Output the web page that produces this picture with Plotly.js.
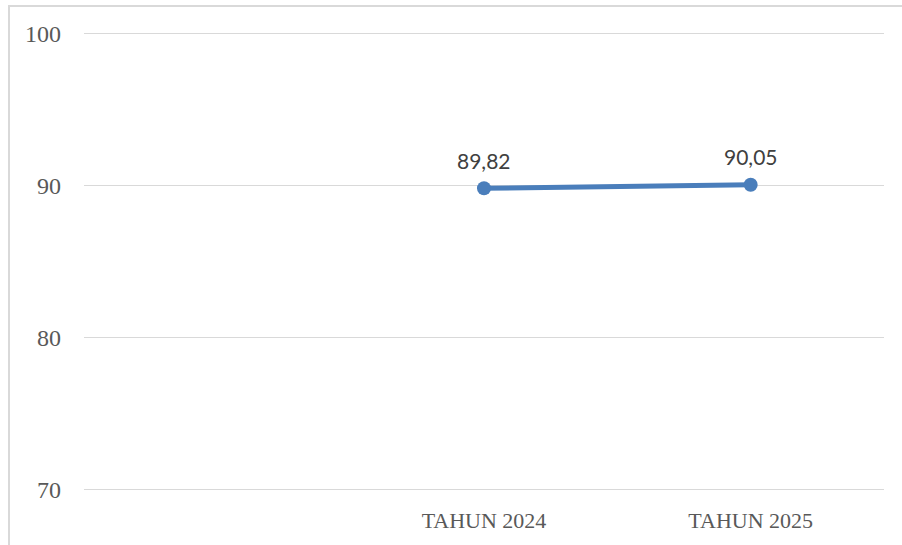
<!DOCTYPE html>
<html>
<head>
<meta charset="utf-8">
<script src="https://cdn.plot.ly/plotly-3.0.1.min.js"></script>
<style>
html,body{margin:0;padding:0;background:#fff;}
#wrap{position:relative;width:902px;height:545px;overflow:hidden;}
#frame{position:absolute;left:8px;top:5px;width:900px;height:545px;border-left:2px solid #d9d9d9;border-top:2px solid #d9d9d9;box-sizing:border-box;pointer-events:none;}
#chart{position:absolute;left:0;top:0;width:902px;height:545px;}
</style>
</head>
<body>
<div id="wrap">
<div id="chart"></div>
<div id="frame"></div>
</div>
<script>
var categories = [" ", "TAHUN 2024", "TAHUN 2025"];
var values = [null, 89.82, 90.05];
var yTicks = [70, 80, 90, 100];

var trace = {
  type: 'scatter',
  mode: 'lines+markers',
  x: categories,
  y: values,
  line: {color: '#4a7ebb', width: 5},
  marker: {color: '#4a7ebb', size: 14},
  cliponaxis: false,
  hoverinfo: 'skip'
};

var annotations = [];
for (var i = 0; i < categories.length; i++) {
  if (values[i] === null) continue;
  annotations.push({
    x: categories[i], y: values[i], xref: 'x', yref: 'y',
    text: values[i].toFixed(2).replace('.', ','),
    showarrow: false, yshift: 28,
    font: {family: 'Lato, "Liberation Sans", sans-serif', size: 21, color: '#404040'}
  });
}

var layout = {
  width: 902, height: 545,
  margin: {l: 84, r: 18, t: 31.5, b: 53.5},
  paper_bgcolor: '#ffffff', plot_bgcolor: '#ffffff',
  separators: ', ',
  showlegend: false,
  annotations: annotations,
  xaxis: {
    type: 'category',
    categoryarray: categories,
    categoryorder: 'array',
    range: [-0.5, 2.5],
    showgrid: false, zeroline: false, showline: false,
    ticks: '',
    ticklabelstandoff: 14,
    tickfont: {family: '"Liberation Serif", "DejaVu Serif", serif', size: 22, color: '#595959'}
  },
  yaxis: {
    range: [69.9, 100.1],
    tickvals: yTicks,
    showgrid: true, gridcolor: '#d9d9d9', gridwidth: 1.5,
    zeroline: false, showline: false,
    ticks: '',
    ticklabelstandoff: 22,
    tickfont: {family: '"Liberation Serif", "DejaVu Serif", serif', size: 24, color: '#595959'}
  }
};

Plotly.newPlot('chart', [trace], layout, {staticPlot: true, displayModeBar: false});
</script>
</body>
</html>
